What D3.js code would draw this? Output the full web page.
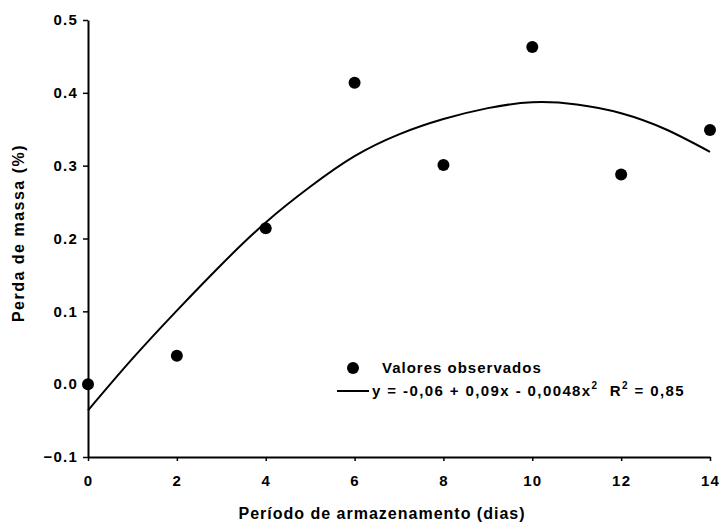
<!DOCTYPE html>
<html>
<head>
<meta charset="utf-8">
<script src="https://cdn.jsdelivr.net/npm/d3@7"></script>
<style>
  html, body { margin: 0; padding: 0; background: #fff; }
  svg text { font-family: "Liberation Sans", Arial, sans-serif; fill: #000; }
</style>
</head>
<body>
<svg id="chart" width="720" height="527"></svg>
<script>
// Observed values (days, % mass loss)
const obsDays = [0, 2, 4, 6, 8, 10, 12, 14];
const obsLoss = [0.0, 0.039, 0.214, 0.414, 0.301, 0.463, 0.288, 0.349];

// Fitted curve at each day
const fitDays = [0, 1, 2, 3, 4, 5, 6, 7, 8, 9, 10, 11, 12, 13, 14];
const fitLoss = [-0.036, 0.035, 0.101, 0.164, 0.222, 0.271, 0.313, 0.343, 0.364, 0.379, 0.387, 0.384, 0.372, 0.350, 0.319];

// Tick labels
const xTicks = [0, 2, 4, 6, 8, 10, 12, 14];
const yTicks = [-0.1, 0.0, 0.1, 0.2, 0.3, 0.4, 0.5];

const xTitle = "Período de armazenamento (dias)";
const yTitle = "Perda de massa (%)";
const legendDots = "Valores observados";

const margin = { top: 20, right: 10, bottom: 70, left: 88 };
const width = 720 - margin.left - margin.right;   // 622
const height = 527 - margin.top - margin.bottom;  // 437

const svg = d3.select("#chart");
const g = svg.append("g")
    .attr("transform", `translate(${margin.left},${margin.top})`);

const xScale = d3.scaleLinear().domain([0, 14]).range([0, width]);
const yScale = d3.scaleLinear().domain([-0.1, 0.5]).range([height, 0]);

// Axes
const xAxis = g.append("g")
    .attr("transform", `translate(0,${height})`)
    .call(d3.axisBottom(xScale)
        .tickValues(xTicks)
        .tickFormat(d3.format("d"))
        .tickSize(4)
        .tickSizeOuter(0)
        .tickPadding(14));

const yAxis = g.append("g")
    .call(d3.axisLeft(yScale)
        .tickValues(yTicks)
        .tickFormat(d3.format(".1f"))
        .tickSize(5)
        .tickSizeOuter(0)
        .tickPadding(5));

[xAxis, yAxis].forEach(ax => {
    ax.select(".domain").attr("stroke", "#000").attr("stroke-width", 2);
    ax.selectAll(".tick line").attr("stroke", "#000").attr("stroke-width", 1.5);
    ax.selectAll(".tick text")
        .style("font-family", "'Liberation Sans', Arial, sans-serif")
        .style("font-size", "15px")
        .style("font-weight", "bold")
        .style("letter-spacing", "1.2px")
        .attr("fill", "#000");
});

// Axis titles
g.append("text")
    .attr("x", width / 2 - 17)
    .attr("y", height + 62)
    .attr("text-anchor", "middle")
    .style("font-size", "16px")
    .style("font-weight", "bold")
    .style("letter-spacing", "1px")
    .text(xTitle);

g.append("text")
    .attr("transform", "rotate(-90)")
    .attr("x", -(233 - margin.top))
    .attr("y", -margin.left + 24)
    .attr("text-anchor", "middle")
    .style("font-size", "16px")
    .style("font-weight", "bold")
    .style("letter-spacing", "1.5px")
    .text(yTitle);

// Fitted curve
const line = d3.line()
    .x((d, i) => xScale(fitDays[i]))
    .y(d => yScale(d))
    .curve(d3.curveNatural);

g.append("path")
    .datum(fitLoss)
    .attr("fill", "none")
    .attr("stroke", "#000")
    .attr("stroke-width", 2)
    .attr("d", line);

// Observed points
g.selectAll(".obs")
    .data(obsLoss)
    .enter()
    .append("circle")
        .attr("class", "obs")
        .attr("cx", (d, i) => xScale(obsDays[i]))
        .attr("cy", d => yScale(d))
        .attr("r", 6)
        .attr("fill", "#000");

// Legend
const legend = svg.append("g");

legend.append("circle")
    .attr("cx", 353)
    .attr("cy", 368)
    .attr("r", 6)
    .attr("fill", "#000");

legend.append("text")
    .attr("x", 382)
    .attr("y", 373)
    .style("font-size", "15px")
    .style("font-weight", "bold")
    .style("letter-spacing", "1px")
    .text(legendDots);

legend.append("line")
    .attr("x1", 337).attr("x2", 369)
    .attr("y1", 391).attr("y2", 391)
    .attr("stroke", "#000")
    .attr("stroke-width", 2);

const eq = legend.append("text")
    .attr("x", 372)
    .attr("y", 396)
    .style("font-size", "15px")
    .style("font-weight", "bold")
    .style("letter-spacing", "1.4px")
    .attr("xml:space", "preserve");

eq.append("tspan").text("y = -0,06 + 0,09x - 0,0048x");
eq.append("tspan").attr("dy", -7).style("font-size", "10px").text("2");
eq.append("tspan").attr("dy", 7).text("  R");
eq.append("tspan").attr("dy", -7).style("font-size", "10px").text("2");
eq.append("tspan").attr("dy", 7).text(" = 0,85");
</script>
</body>
</html>
